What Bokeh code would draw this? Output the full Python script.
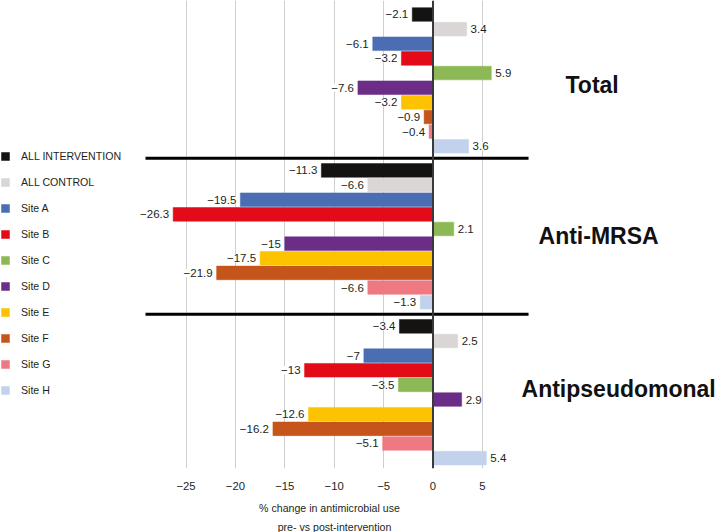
from bokeh.plotting import figure
from bokeh.layouts import column
from bokeh.models import (Range1d, FixedTicker, Span, Label, LabelSet,
                          ColumnDataSource, Legend, LegendItem)
from bokeh.core.properties import value
from bokeh.embed import file_html
from bokeh.resources import INLINE

# ---------------- data ----------------
series = ["ALL INTERVENTION", "ALL CONTROL", "Site A", "Site B", "Site C",
          "Site D", "Site E", "Site F", "Site G", "Site H"]
colors = ["#151311", "#d9d6d5", "#4b6db3", "#e20b17", "#8cb955",
          "#6c2d89", "#fdc300", "#c6551b", "#ee7983", "#c3d2ec"]
groups = ["Total", "Anti-MRSA", "Antipseudomonal"]
total = [-2.1, 3.4, -6.1, -3.2, 5.9, -7.6, -3.2, -0.9, -0.4, 3.6]
anti_mrsa = [-11.3, -6.6, -19.5, -26.3, 2.1, -15, -17.5, -21.9, -6.6, -1.3]
antipseudomonal = [-3.4, 2.5, -7, -13, -3.5, 2.9, -12.6, -16.2, -5.1, 5.4]
ticks = [-25, -20, -15, -10, -5, 0, 5]
x_title = ["% change in antimicrobial use", "pre- vs post-intervention"]

group_values = [total, anti_mrsa, antipseudomonal]

# ---------------- layout params ----------------
W = 722
GROUP_STEP = 10.65
BAR_H = 0.93
Y_TOP = -0.956
Y_BOT = 31.01
X_MIN, X_MAX = -43.775, 29.30       # full canvas width
DATA_X0, DATA_X1 = -29.10, 9.67     # extent of separators
FONT = "Liberation Sans"
TXT = "#231f20"


def fmt(v):
    return f"{v:g}".replace("-", "\u2212")


p = figure(width=W, height=496,
           x_range=Range1d(X_MIN, X_MAX),
           y_range=Range1d(Y_BOT, Y_TOP),
           output_backend="svg", toolbar_location=None,
           y_axis_location=None,
           min_border_left=0, min_border_right=0,
           min_border_top=0, min_border_bottom=28,
           outline_line_color=None)

# axis
tk = FixedTicker(ticks=ticks)
p.xaxis.ticker = tk
p.xaxis.major_label_overrides = {t: fmt(t) for t in ticks}
p.xaxis.axis_line_color = None
p.xaxis.major_tick_line_color = None
p.xaxis.minor_tick_line_color = None
p.xaxis.major_tick_out = 0
p.xaxis.major_tick_in = 0
p.xaxis.major_label_standoff = 13
p.xaxis.major_label_text_font = FONT
p.xaxis.major_label_text_font_size = "11.3px"
p.xaxis.major_label_text_color = TXT
p.xgrid.ticker = tk
p.xgrid.grid_line_color = "#cfcfcf"
p.xgrid.grid_line_width = 1
p.ygrid.grid_line_color = None

# bars
items = []
neg = dict(x=[], y=[], text=[])
pos = dict(x=[], y=[], text=[])
for i, name in enumerate(series):
    ys = [g * GROUP_STEP + i for g in range(len(groups))]
    vs = [gv[i] for gv in group_values]
    src = ColumnDataSource(dict(y=ys, v=vs))
    r = p.hbar(y="y", left=0, right="v", height=BAR_H, source=src,
               fill_color=colors[i], line_color=colors[i], line_width=0.5)
    items.append(LegendItem(label=name, renderers=[r]))
    for yy, vv in zip(ys, vs):
        d = neg if vv < 0 else pos
        d["x"].append(vv)
        d["y"].append(yy)
        d["text"].append(fmt(vv))

# separators and zero line
seps = [k * GROUP_STEP + 9 + (GROUP_STEP - 9) / 2 for k in range(len(groups) - 1)]
p.segment(x0=DATA_X0, x1=DATA_X1, y0=seps, y1=seps,
          line_color="black", line_width=3)
p.add_layout(Span(location=0, dimension="height", line_color="#3a3a3a",
                  line_width=2))

# value labels
for d, off, al in ((neg, -4, "right"), (pos, 4, "left")):
    ls = LabelSet(x="x", y="y", text="text", source=ColumnDataSource(d),
                  x_offset=off, y_offset=0, text_align=al,
                  text_baseline="middle", text_font=value(FONT),
                  text_font_size="11.5px", text_color=TXT,
                  background_fill_color="white")
    p.add_layout(ls)

# group titles
title_pos = [(13.41, 4.82), (10.68, 15.1), (8.96, 25.55)]
for name, (tx, ty) in zip(groups, title_pos):
    p.add_layout(Label(x=tx, y=ty, text=name, text_font=FONT,
                       text_font_style="bold", text_font_size="23px",
                       text_color="#111111", text_align="left",
                       text_baseline="middle"))

# legend
legend = Legend(items=items, location=(0, 71), orientation="vertical",
                glyph_width=10, glyph_height=10, label_height=14,
                spacing=12, padding=0, margin=0, label_standoff=11,
                border_line_color=None, background_fill_alpha=0,
                label_text_font=FONT, label_text_font_size="10.6px",
                label_text_color=TXT)
p.add_layout(legend)

# x-axis title (two lines) in a strip below, sharing the x range
q = figure(width=W, height=36, x_range=p.x_range, y_range=Range1d(36, 0),
           output_backend="svg", toolbar_location=None,
           x_axis_location=None, y_axis_location=None,
           min_border_left=0, min_border_right=0,
           min_border_top=0, min_border_bottom=0,
           outline_line_color=None)
q.grid.visible = False
title_x = [-10.48, -9.97]
title_y = [11, 30]
for line, tx, ty in zip(x_title, title_x, title_y):
    q.add_layout(Label(x=tx, y=ty, text=line, text_font=FONT,
                       text_font_size="10.6px", text_color=TXT,
                       text_align="center", text_baseline="middle"))

layout = column(p, q, spacing=0)
open("out.html", "w").write(file_html(layout, INLINE))
